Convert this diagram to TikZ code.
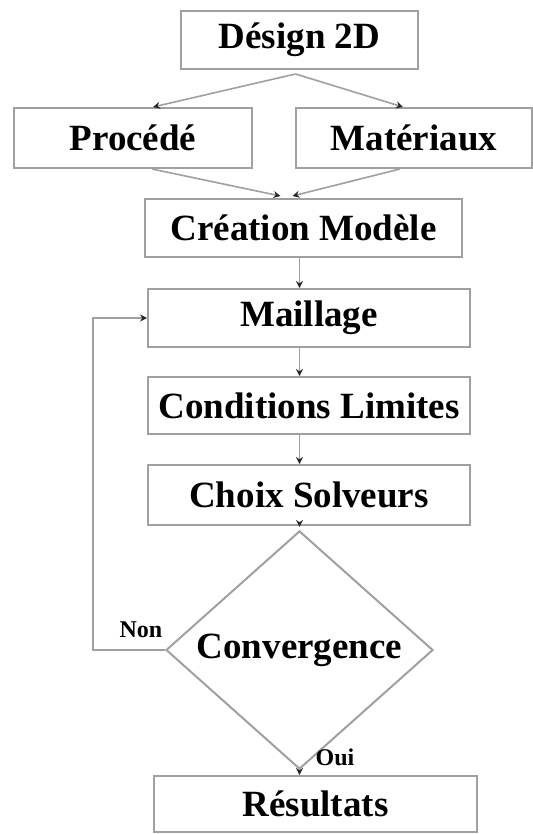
\documentclass[tikz,border=0pt]{standalone}
\usepackage{fontspec}
\setmainfont{Liberation Serif}
\usetikzlibrary{arrows.meta,shapes.geometric,calc}
\definecolor{linegray}{RGB}{160,160,160}
\definecolor{tipgray}{RGB}{40,40,40}
\begin{document}
\begin{tikzpicture}[x=1pt,y=-1pt,
  box/.style={draw=linegray,line width=2pt,inner sep=0pt,minimum width=#1,
    font=\fontsize{37}{40}\selectfont\bfseries},
  box/.default=322pt,
  conn/.style={draw=linegray,line width=1.6pt,-{Stealth[length=7pt,width=7pt,color=tipgray]}},
  lbl/.style={font=\fontsize{24}{28}\selectfont\bfseries,inner sep=0pt}]
\useasboundingbox (0,0) rectangle (532,834);
\node[box=237pt,minimum height=58pt] (d2d) at (299.5,40) {Désign 2D};
\node[box=238pt,minimum height=60pt] (proc) at (133,138) {Procédé};
\node[box=236pt,minimum height=60pt] (mat) at (414,138) {Matériaux};
\node[box=317pt,minimum height=58pt] (crea) at (303.5,228) {Création Modèle};
\node[box=322pt,minimum height=58pt] (mail) at (309,318) {Maillage};
\node[box=322pt,minimum height=57pt] (cond) at (309,405.5) {Conditions Limites};
\node[box=322pt,minimum height=60pt] (choix) at (309,495) {Choix Solveurs};
\node[draw=linegray,line width=2pt,diamond,inner sep=0pt,minimum width=267pt,minimum height=186pt,
  font=\fontsize{37}{40}\selectfont\bfseries] (conv) at (299.5,650) {Convergence};
\node[box=323pt,minimum height=56pt] (res) at (315.5,804) {Résultats};
\coordinate (fb) at (93,650);
\node[lbl] (non) at (141,630) {Non};
\node[lbl] (oui) at (335,757) {Oui};
% connectors
\draw[conn] ($(d2d.south)+(-4,4)$) -- ($(proc.north)+(20,0)$);
\draw[conn] ($(d2d.south)+(-4,4)$) -- ($(mat.north)+(-11,0)$);
\draw[conn] ($(proc.south)+(19,0)$) -- ($(crea.north)+(-23,-2)$);
\draw[conn] ($(mat.south)+(-14,0)$) -- ($(crea.north)+(-11,-2)$);
\draw[conn] (crea.south -| conv.north) -- (mail.north -| conv.north);
\draw[conn] (mail.south -| conv.north) -- (cond.north -| conv.north);
\draw[conn] (cond.south -| conv.north) -- (choix.north -| conv.north);
\draw[conn] (choix.south -| conv.north) -- ($(conv.north)+(0,-3)$);
\draw[conn] (conv.south) -- (res.north -| conv.south);
\draw[conn] (conv.west) -- (fb) -- (fb |- mail.west) -- (mail.west);
\end{tikzpicture}
\end{document}
